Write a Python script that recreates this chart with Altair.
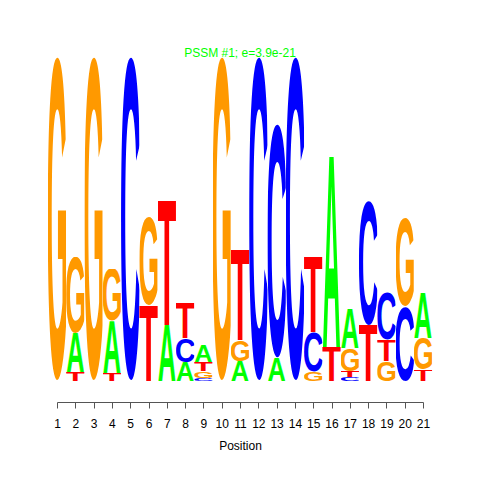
import base64
import altair as alt
import pandas as pd

positions = list(range(1, 22))
# information content (bits) of each letter per position
A = [0, .241, 0, .320, 0, 0, .346, .117, .105, 0, .123, 0, .142, 0, 0, 1.173, .241, 0, 0, 0, .278]
C = [0, 0, 0, 0, 2.0, 0, 0, .148, .019, 0, 0, 2.0, 1.444, 2.0, .247, 0, .025, .765, .296, .457, 0]
G = [2.0, .469, 2.0, .325, 0, .549, 0, 0, .043, 2.0, .130, 0, 0, 0, .056, 0, .142, 0, .123, .549, .198]
T = [0, .056, 0, .049, 0, .463, .765, .216, .056, 0, .556, 0, 0, 0, .463, .210, .037, .346, .130, 0, .068]

title_text = "PSSM #1; e=3.9e-21"
colors = {"A": "#00FF00", "C": "#0000FF", "G": "#FF9900", "T": "#FF0000"}
# glyph boxes (font units at size 100): x, y, w, h
boxes = {"A": (0, -68.8, 72.2, 68.8), "C": (4.2, -70.0, 63.0, 71.2),
         "G": (4.3, -70.0, 67.6, 71.2), "T": (2.1, -68.8, 56.9, 68.8)}
FONT = "Liberation Sans, Arial, Helvetica, sans-serif"


def glyph_url(letter):
    x, y, w, h = boxes[letter]
    svg = (f'<svg xmlns="http://www.w3.org/2000/svg" width="100" height="100" '
           f'viewBox="{x} {y} {w} {h}" preserveAspectRatio="none">'
           f'<text x="0" y="0" font-family="{FONT}" font-weight="bold" font-size="100" '
           f'fill="{colors[letter]}">{letter}</text></svg>')
    return "data:image/svg+xml;base64," + base64.b64encode(svg.encode()).decode()


urls = {k: glyph_url(k) for k in "ACGT"}
rows = []
for i, p in enumerate(positions):
    col = [(h, L) for L, h in zip("ACGT", (A[i], C[i], G[i], T[i])) if h > 0]
    col.sort()
    base = 0.0
    for h, L in col:
        rows.append({"pos": p, "x0": p - 0.5, "x1": p + 0.5, "y0": base, "y1": base + h,
                     "letter": L, "url": urls[L]})
        base += h
df = pd.DataFrame(rows)

xscale = alt.Scale(domain=[1, 21], nice=False, zero=False)
yscale = alt.Scale(domain=[0, 2], nice=False, zero=True)

W, H = 366, 324

logo = alt.Chart(df).mark_image(aspect=False).encode(
    x=alt.X("x0:Q", scale=xscale,
            axis=alt.Axis(values=positions, tickSize=6, offset=21, grid=False,
                          labelFont=FONT, labelFontSize=12, labelColor="#000000",
                          labelPadding=10, labelFlush=False, labelOverlap=False,
                          title="Position", titleFont=FONT, titleFontSize=12,
                          titleFontWeight="normal", titleColor="#000000", titlePadding=11,
                          domainColor="#555555", tickColor="#555555", format="d")),
    x2="x1:Q",
    y=alt.Y("y0:Q", scale=yscale, axis=None),
    y2="y1:Q",
    url="url:N",
)

title = alt.Chart(pd.DataFrame({"t": [title_text]})).mark_text(
    font=FONT, fontSize=12, color="#00FF00", align="center", baseline="alphabetic"
).encode(x=alt.value(W / 2), y=alt.value(0), text="t:N")

chart = alt.layer(logo, title).properties(
    width=W, height=H,
    autosize=alt.AutoSizeParams(type="none"),
    padding={"left": 49, "top": 49, "right": 40, "bottom": 80},
).configure_view(stroke=None)

chart.save("out.html", embed_options={"renderer": "svg", "actions": False})
